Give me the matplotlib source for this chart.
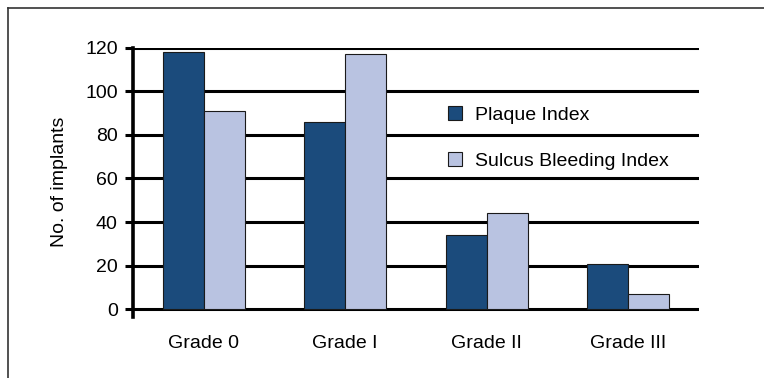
import matplotlib
matplotlib.use("Agg")
import matplotlib.pyplot as plt
import numpy as np
from matplotlib.lines import Line2D

plt.rcParams['font.family'] = ['Liberation Sans', 'DejaVu Sans']

categories = ["Grade 0", "Grade I", "Grade II", "Grade III"]
plaque_index = [118, 86, 34, 21]
sulcus_bleeding_index = [91, 117, 44, 7]
yticks = [0, 20, 40, 60, 80, 100, 120]

dark_blue = "#1b4b7c"
light_blue = "#b9c3e1"

fig = plt.figure(figsize=(7.64, 3.78), dpi=100)
ax = fig.add_axes([133 / 764, 1 - 317 / 378, (699 - 133) / 764, (317 - 47.5) / 378])

x = np.arange(len(categories))
w = 0.29
ax.bar(x - w / 2, plaque_index, w, color=dark_blue, edgecolor="#1a1a1a",
       linewidth=0.8, label="Plaque Index", zorder=3)
ax.bar(x + w / 2, sulcus_bleeding_index, w, color=light_blue, edgecolor="#1a1a1a",
       linewidth=0.8, label="Sulcus Bleeding Index", zorder=3)

ax.set_xlim(-0.5, len(categories) - 0.5)
ax.set_ylim(-3.5, 120)
ax.set_yticks(yticks)
ax.set_xticks(x)
ax.set_xticklabels(categories, fontsize=14)
ax.tick_params(axis="x", length=0, pad=13)
ax.tick_params(axis="y", length=6, width=2.2, direction="out", pad=5, labelsize=14)

for v in yticks:
    ax.axhline(v, color="black", linewidth=2.2, zorder=1)

for s in ["top", "right", "bottom"]:
    ax.spines[s].set_visible(False)
ax.spines["left"].set_linewidth(2.6)
ax.spines["left"].set_zorder(4)

ax.set_ylabel("No. of implants", fontsize=14, labelpad=12.5)

ax.legend(loc="upper left", bbox_to_anchor=(0.543, 0.81), frameon=False,
          fontsize=14, handlelength=0.7, handleheight=0.7, handletextpad=0.7,
          labelspacing=1.45, borderaxespad=0)

# outer frame around the chart
fig.add_artist(Line2D([7.5 / 764, 7.5 / 764], [0, 1 - 7.5 / 378],
                      transform=fig.transFigure, color="#333333", linewidth=1.2))
fig.add_artist(Line2D([7.5 / 764, 1], [1 - 7.5 / 378, 1 - 7.5 / 378],
                      transform=fig.transFigure, color="#333333", linewidth=1.2))

fig.savefig("out.png", dpi=100)
